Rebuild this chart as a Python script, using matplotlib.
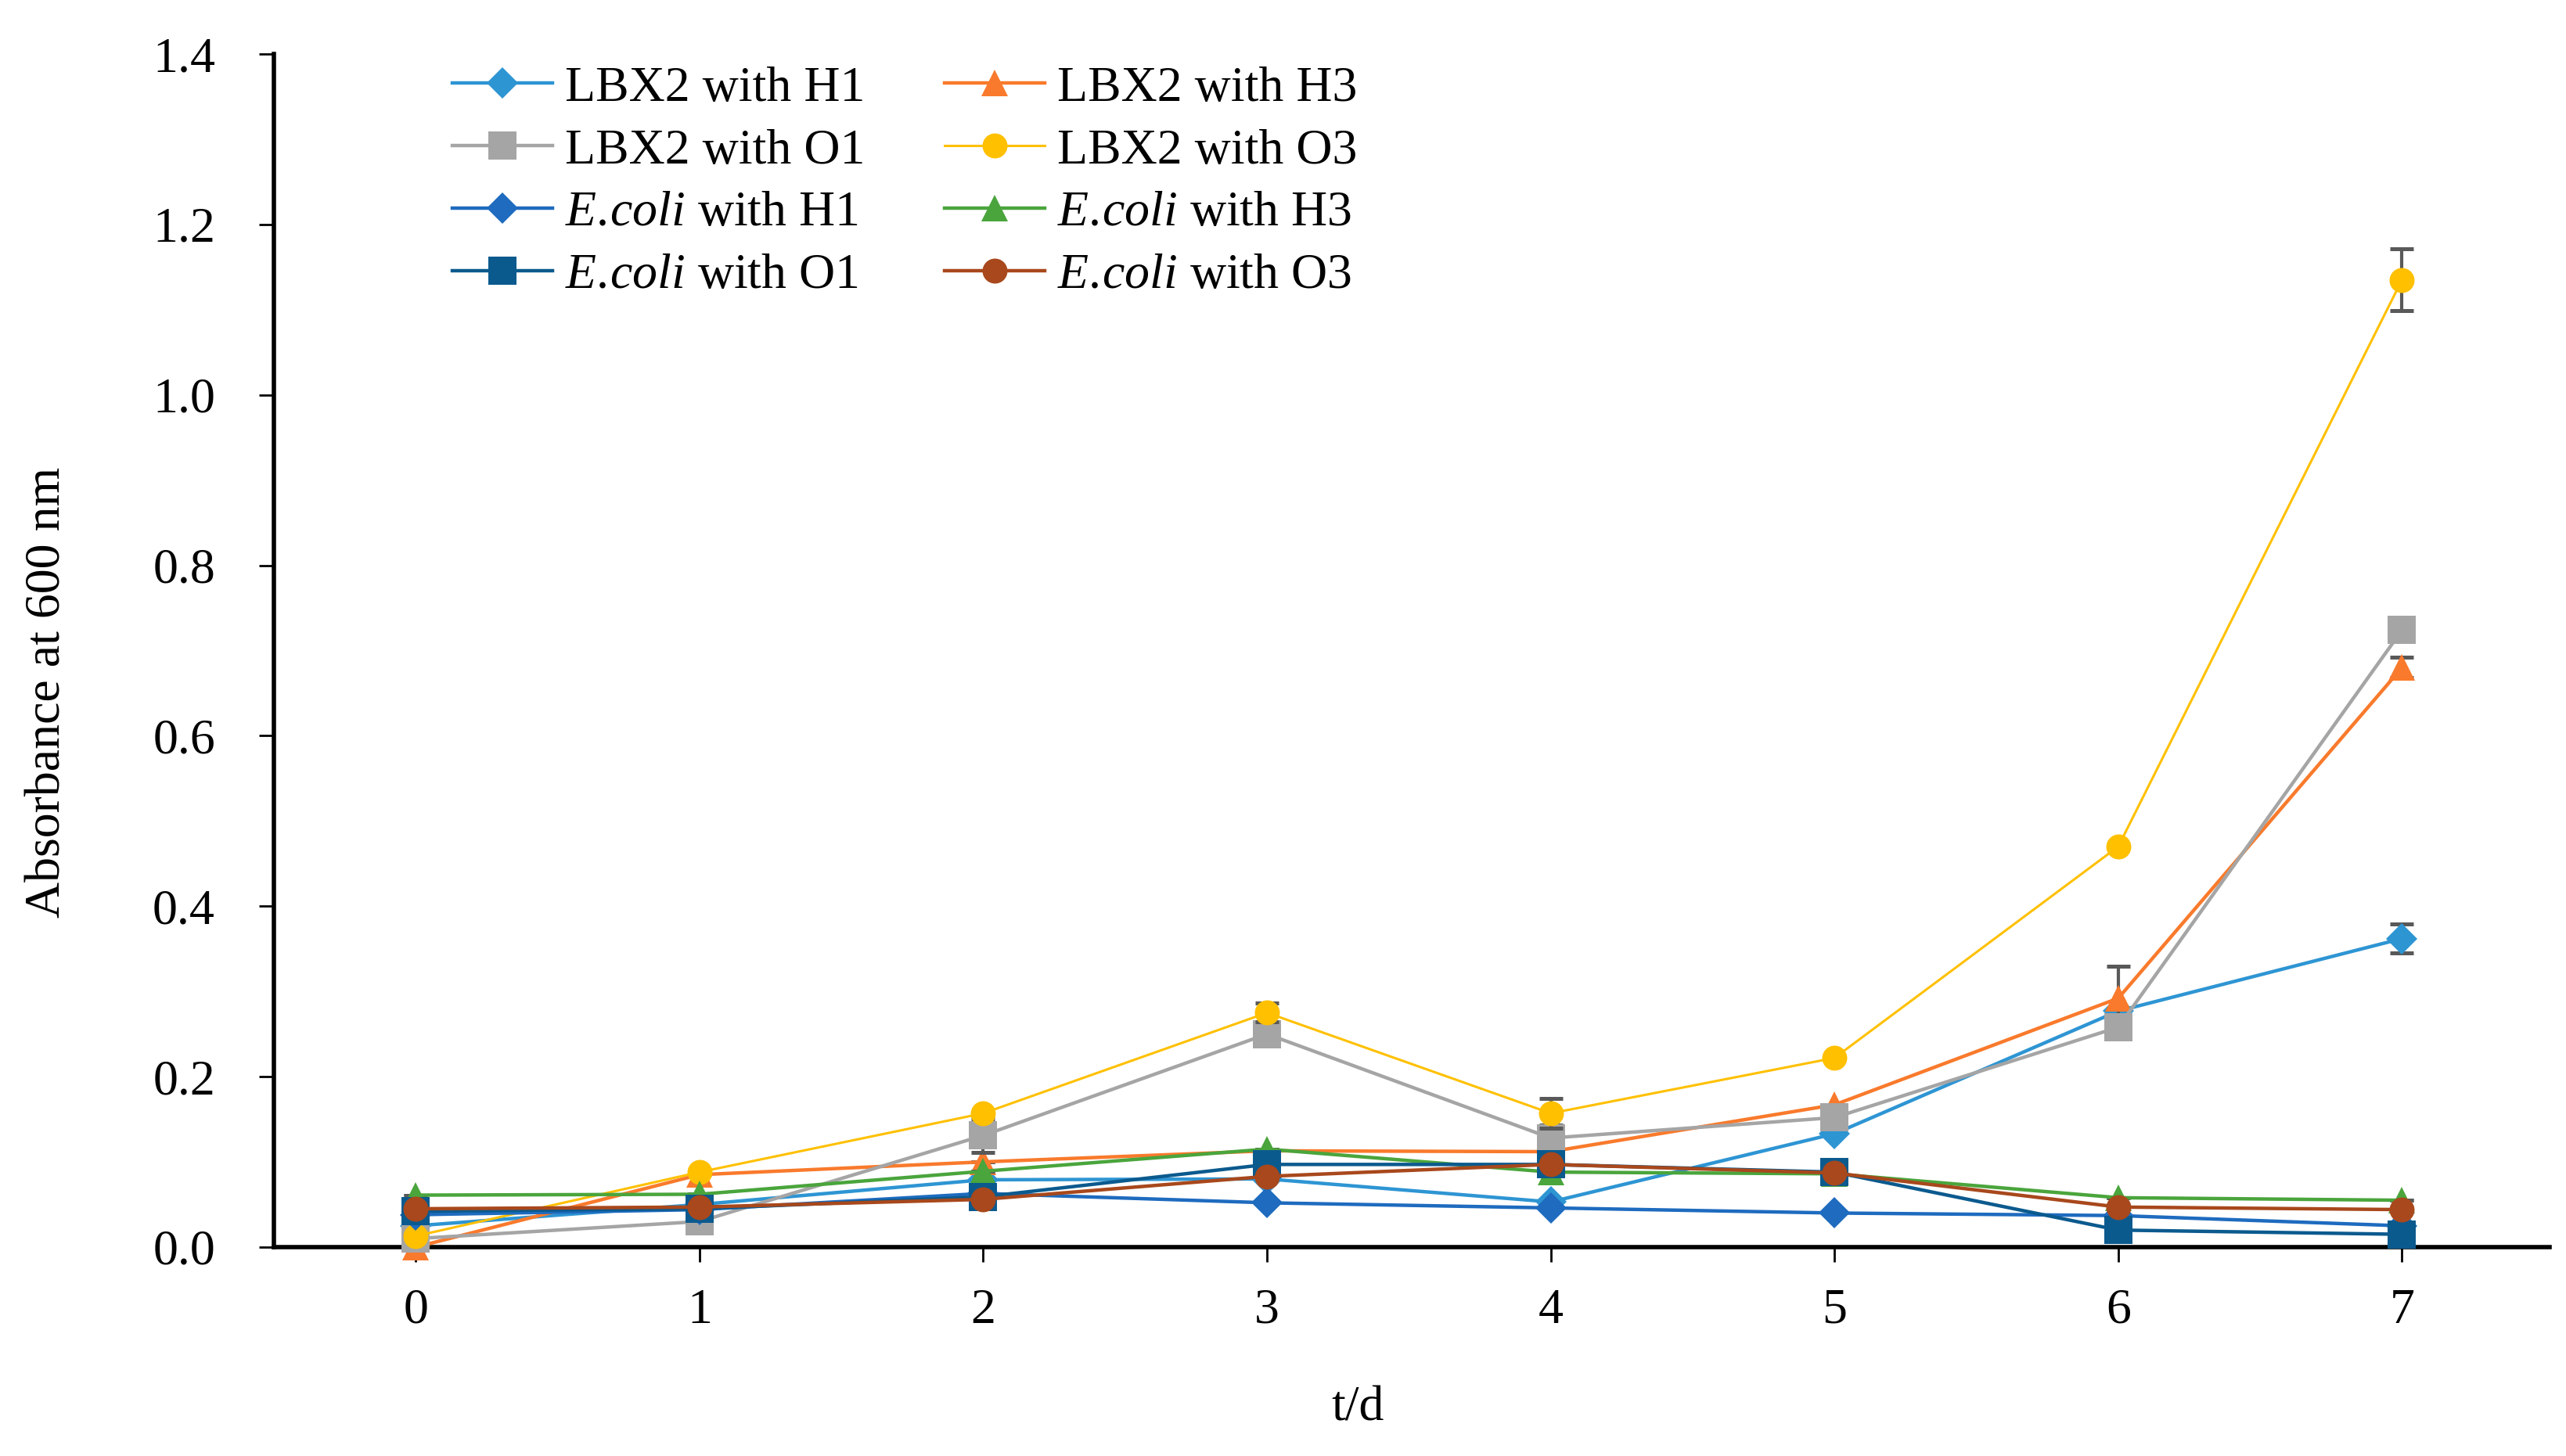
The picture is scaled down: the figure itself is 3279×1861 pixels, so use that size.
import numpy as np
import matplotlib
matplotlib.use("Agg")
import matplotlib.pyplot as plt

plt.rcParams['font.family'] = ['Liberation Serif', 'DejaVu Serif']
plt.rcParams['mathtext.fontset'] = 'custom'
plt.rcParams['mathtext.rm'] = 'Liberation Serif'
plt.rcParams['mathtext.it'] = 'Liberation Serif:italic'

days = [0, 1, 2, 3, 4, 5, 6, 7]

# LBX2 series
lbx2_h1 = [0.025, 0.050, 0.079, 0.080, 0.053, 0.133, 0.277, 0.362]
lbx2_h3 = [0.000, 0.085, 0.100, 0.113, 0.112, 0.167, 0.292, 0.680]
lbx2_o1 = [0.010, 0.030, 0.131, 0.250, 0.128, 0.152, 0.258, 0.724]
lbx2_o3 = [0.013, 0.088, 0.157, 0.275, 0.157, 0.222, 0.470, 1.135]

# E.coli series
ecoli_h1 = [0.038, 0.044, 0.063, 0.052, 0.046, 0.040, 0.037, 0.025]
ecoli_h3 = [0.061, 0.062, 0.089, 0.115, 0.088, 0.086, 0.058, 0.055]
ecoli_o1 = [0.042, 0.045, 0.059, 0.097, 0.097, 0.088, 0.020, 0.015]
ecoli_o3 = [0.045, 0.047, 0.056, 0.083, 0.097, 0.087, 0.047, 0.044]

# error bars (only the visible ones)
err_lbx2_h1 = [0, 0, 0, 0, 0, 0, 0, 0.017]
err_lbx2_h3 = [0, 0, 0, 0, 0, 0, 0.038, 0.012]
err_lbx2_o1 = [0, 0, 0.020, 0, 0.015, 0, 0, 0]
err_lbx2_o3 = [0, 0, 0, 0.011, 0.017, 0, 0, 0.036]
err_ecoli = [0, 0, 0, 0, 0, 0, 0, 0]

ecoli = r"$\mathit{E.\!coli}$"
series = [
    ("LBX2 with H1", lbx2_h1, err_lbx2_h1, '#2E95D3', 'D', 10, 1.6),
    ("LBX2 with H3", lbx2_h3, err_lbx2_h3, '#F97A2C', '^', 12, 1.6),
    ("LBX2 with O1", lbx2_o1, err_lbx2_o1, '#A5A5A5', 's', 13, 1.6),
    ("LBX2 with O3", lbx2_o3, err_lbx2_o3, '#FFC000', 'o', 11.5, 1.1),
    (ecoli + " with H1", ecoli_h1, err_ecoli, '#1E6BBF', 'D', 10, 1.6),
    (ecoli + " with H3", ecoli_h3, err_ecoli, '#4AA53C', '^', 12, 1.6),
    (ecoli + " with O1", ecoli_o1, err_ecoli, '#0B5A8E', 's', 13, 1.6),
    (ecoli + " with O3", ecoli_o3, err_ecoli, '#A8481C', 'o', 11.5, 1.6),
]

fig = plt.figure(figsize=(16.4, 9.305), dpi=200)
ax = fig.add_axes([350 / 3280, 1 - 1594 / 1861, (3258 - 350) / 3280, (1594 - 69) / 1861])

handles = {}
for i, (label, vals, err, col, mk, ms, lw) in enumerate(series):
    eb = ax.errorbar(days, vals, yerr=err, color=col, marker=mk, markersize=ms,
                     linewidth=lw, ecolor='#595959',
                     elinewidth=1.5, capsize=5.5, capthick=1.8,
                     label=label, zorder=3 + i, clip_on=False)
    line = eb.lines[0]
    line.set_markeredgewidth(0)
    handles[label] = line

ax.set_xlim(-0.5, 7.52)
ax.set_ylim(0, 1.4)
ax.set_xticks(days)
ax.set_yticks(np.arange(0, 1.41, 0.2))
ax.set_yticklabels([f"{v:.1f}" for v in np.arange(0, 1.41, 0.2)])

for s in ['top', 'right']:
    ax.spines[s].set_visible(False)
for s in ['left', 'bottom']:
    ax.spines[s].set_linewidth(2.0)
    ax.spines[s].set_color('black')

ax.tick_params(axis='both', direction='out', length=7, width=1.0, labelsize=23,
               colors='black')
ax.tick_params(axis='y', pad=20)
ax.tick_params(axis='x', pad=12)

fig.text(62 / 3280, 1 - 885 / 1861, "Absorbance at 600 nm", rotation=90,
         ha='center', va='center', fontsize=23)
fig.text(1735 / 3280, 1 - 1800 / 1861, "t/d", ha='center', va='center', fontsize=23)

order = [0, 2, 4, 6, 1, 3, 5, 7]
labels = [series[k][0] for k in order]
hs = [handles[l] for l in labels]
leg = fig.legend(hs, labels, ncol=2, loc='upper left',
                 bbox_to_anchor=(578 / 3280, 1 - 84 / 1861), frameon=False,
                 fontsize=23, handlelength=2.0, handletextpad=0.25,
                 columnspacing=1.6, labelspacing=0.33, borderpad=0,
                 borderaxespad=0)

fig.savefig("out.png", dpi=200)
